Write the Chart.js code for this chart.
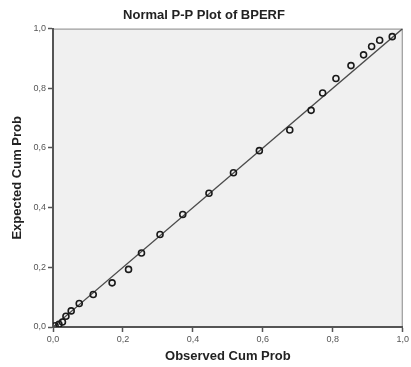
<!DOCTYPE html>
<html>
<head>
<meta charset="utf-8">
<script src="https://cdn.jsdelivr.net/npm/chart.js@4/dist/chart.umd.min.js"></script>
<style>
  html, body { margin: 0; padding: 0; background: #ffffff; }
  #wrap { width: 411px; height: 367px; }
</style>
</head>
<body>
<div id="wrap"><canvas id="pp"></canvas></div>
<script>
// Observed vs. expected cumulative probabilities for BPERF
const observedCumProb = [0.006, 0.017, 0.027, 0.037, 0.052, 0.075, 0.115, 0.169, 0.216, 0.253,
  0.306, 0.371, 0.446, 0.516, 0.590, 0.677, 0.738, 0.771, 0.809, 0.852, 0.888, 0.911, 0.934, 0.970];
const expectedCumProb = [0.004, 0.009, 0.017, 0.036, 0.054, 0.079, 0.109, 0.148, 0.193, 0.248,
  0.310, 0.377, 0.448, 0.517, 0.591, 0.660, 0.726, 0.784, 0.833, 0.876, 0.912, 0.940, 0.961, 0.973];
// Reference line endpoints (y = x)
const refLineX = [0, 1];
const refLineY = [0, 1];
const tickValues = [0, 0.2, 0.4, 0.6, 0.8, 1.0];

const points = observedCumProb.map((x, i) => ({ x: x, y: expectedCumProb[i] }));
const refLine = refLineX.map((x, i) => ({ x: x, y: refLineY[i] }));

const fmt = v => v.toFixed(1).replace('.', ',');

// Plot frame: grey fill plus thin top/right border
const framePlugin = {
  id: 'frame',
  beforeDraw(chart) {
    const { ctx, chartArea: a } = chart;
    ctx.save();
    ctx.fillStyle = '#f0f0f0';
    ctx.fillRect(a.left, a.top, a.right - a.left, a.bottom - a.top);
    ctx.strokeStyle = '#8a8a8a';
    ctx.lineWidth = 1;
    ctx.beginPath();
    ctx.moveTo(a.left, a.top + 0.5);
    ctx.lineTo(a.right - 0.5, a.top + 0.5);
    ctx.lineTo(a.right - 0.5, a.bottom);
    ctx.stroke();
    ctx.restore();
  }
};

const axisCommon = {
  type: 'linear',
  min: 0,
  max: 1,
  afterBuildTicks(scale) { scale.ticks = tickValues.map(v => ({ value: v })); },
  grid: {
    drawOnChartArea: false,
    drawTicks: true,
    tickLength: 5,
    tickColor: '#555555',
    tickWidth: 1.5
  },
  border: { display: true, color: '#555555', width: 2 },
  ticks: {
    callback: v => fmt(v),
    color: '#555555',
    font: { family: 'Liberation Sans, Arial, sans-serif', size: 9 },
    padding: 2,
    maxRotation: 0,
    autoSkip: false
  }
};

const titleFont = { family: 'Liberation Sans, Arial, sans-serif', size: 13, weight: 'bold' };

new Chart(document.getElementById('pp'), {
  type: 'scatter',
  data: {
    datasets: [
      {
        data: refLine,
        showLine: true,
        borderColor: '#4a4a4a',
        borderWidth: 1.3,
        pointRadius: 0,
        order: 2
      },
      {
        data: points,
        showLine: false,
        pointStyle: 'circle',
        pointRadius: 3,
        pointBorderWidth: 1.6,
        pointBorderColor: '#1a1a1a',
        pointBackgroundColor: 'rgba(0,0,0,0)',
        order: 1
      }
    ]
  },
  options: {
    responsive: true,
    maintainAspectRatio: false,
    animation: false,
    layout: { padding: { left: 5, right: 8, top: 0, bottom: 2 } },
    plugins: {
      legend: { display: false },
      tooltip: { enabled: false },
      title: {
        display: true,
        text: 'Normal P-P Plot of BPERF',
        color: '#222222',
        font: titleFont,
        padding: { top: 8, bottom: 5 }
      }
    },
    scales: {
      x: Object.assign({}, axisCommon, {
        position: 'bottom',
        afterFit(scale) { scale.height = 38; },
        title: {
          display: true,
          text: 'Observed Cum Prob',
          color: '#222222',
          font: titleFont,
          padding: { top: 0, bottom: 1 }
        }
      }),
      y: Object.assign({}, axisCommon, {
        position: 'left',
        afterFit(scale) { scale.width = 48; },
        title: {
          display: true,
          text: 'Expected Cum Prob',
          color: '#222222',
          font: titleFont,
          padding: { top: 5, bottom: 0 }
        }
      })
    }
  },
  plugins: [framePlugin]
});
</script>
</body>
</html>
